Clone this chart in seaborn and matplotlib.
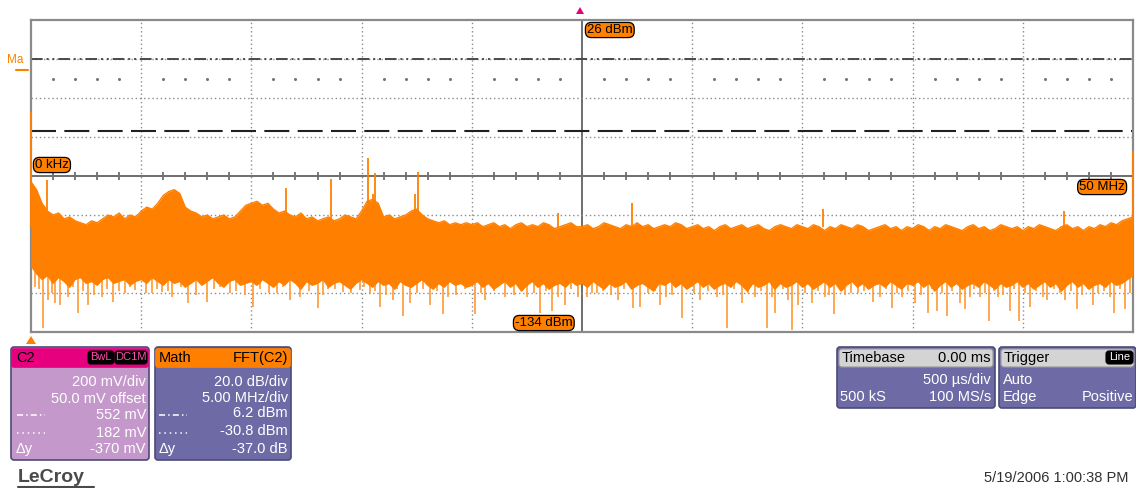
import numpy as np
import matplotlib
matplotlib.use("Agg")
import matplotlib.pyplot as plt
import seaborn as sns
from matplotlib.patches import FancyBboxPatch, Polygon

# --- spectrum (MHz, dBm), 0.25 MHz steps ---
freq_mhz = [i * 0.25 for i in range(201)]
band_top = [
    -57, -61, -68, -72, -74, -73, -76, -75, -77, -78, -79, -77, -78, -76, -74, -75, -73, -76, -74, -75,
    -72, -70, -71, -68, -64, -62, -61, -63, -70, -72, -73, -75, -74, -76, -75, -74, -76, -75, -72, -69,
    -68, -67, -69, -68, -71, -73, -72, -74, -75, -73, -76, -75, -77, -76, -75, -77, -76, -74, -75, -76,
    -72, -67, -66, -68, -75, -74, -76, -75, -74, -72, -71, -74, -76, -77, -78, -77, -79, -78, -79, -78,
    -79, -78, -80, -79, -78, -80, -79, -81, -79, -78, -80, -79, -80, -78, -79, -81, -80, -79, -78, -80,
    -80, -79, -81, -80, -78, -79, -80, -81, -79, -80, -78, -80, -79, -81, -80, -79, -80, -78, -79, -81,
    -80, -79, -81, -80, -82, -80, -79, -81, -80, -79, -81, -80, -79, -81, -82, -80, -79, -80, -81, -79,
    -80, -81, -79, -80, -82, -80, -81, -79, -80, -81, -79, -80, -82, -81, -80, -79, -81, -80, -82, -80,
    -81, -79, -80, -82, -80, -81, -79, -80, -81, -82, -80, -79, -81, -80, -82, -81, -79, -80, -81, -80,
    -82, -80, -81, -79, -80, -81, -82, -80, -79, -81, -80, -82, -80, -81, -79, -80, -78, -79, -77, -76,
    -75]
band_bottom = [
    -100, -104, -107, -105, -109, -106, -108, -111, -107, -106, -109, -108, -110, -107, -106, -109, -108, -107, -110, -108,
    -107, -109, -106, -108, -110, -107, -109, -108, -111, -109, -107, -110, -108, -106, -109, -111, -108, -107, -110, -109,
    -108, -110, -107, -109, -111, -108, -110, -107, -109, -112, -108, -110, -109, -107, -111, -109, -108, -110, -112, -109,
    -107, -109, -111, -108, -110, -109, -112, -108, -110, -111, -109, -107, -110, -112, -109, -111, -108, -110, -109, -111,
    -110, -108, -111, -109, -112, -110, -108, -111, -109, -113, -110, -108, -111, -109, -112, -110, -109, -111, -108, -110,
    -109, -111, -108, -110, -112, -109, -111, -110, -108, -112, -110, -109, -111, -113, -109, -110, -108, -111, -109, -112,
    -110, -108, -111, -109, -112, -110, -109, -111, -108, -110, -113, -109, -111, -110, -108, -112, -109, -111, -110, -108,
    -111, -109, -112, -110, -108, -111, -109, -113, -110, -108, -111, -109, -112, -110, -109, -111, -108, -110, -112, -109,
    -110, -108, -111, -109, -113, -110, -108, -111, -109, -112, -110, -109, -111, -108, -110, -112, -109, -111, -110, -108,
    -111, -109, -112, -110, -108, -111, -109, -113, -110, -108, -111, -109, -112, -110, -109, -111, -108, -110, -109, -107,
    -105]

# deep downward spikes
down_f = [0.18, 0.54, 0.77, 1.09, 1.32, 1.68, 2.13, 2.59, 3.22, 3.72,
          4.26, 4.72, 5.49, 5.94, 6.40, 7.12, 7.99, 8.58, 9.03, 10.07,
          11.16, 11.75, 12.21, 13.02, 13.48, 14.16, 14.93, 15.38, 15.83, 16.42,
          16.88, 17.20, 18.10, 18.69, 18.92, 20.15, 20.60, 21.51, 22.50, 23.09,
          23.64, 24.23, 24.82, 25.23, 25.68, 26.63, 27.31, 27.63, 28.54, 29.08,
          29.54, 30.35, 31.13, 31.58, 32.26, 32.85, 33.39, 33.76, 34.35, 34.53,
          34.80, 35.44, 36.03, 36.43, 36.93, 37.52, 38.20, 39.07, 39.52, 40.11,
          40.70, 41.11, 41.56, 42.15, 42.38, 43.06, 43.47, 43.87, 44.42, 44.83,
          45.33, 46.10, 46.91, 47.46, 48.19, 49.14, 49.64]
down_db = [-111, -132, -117.6, -119, -120, -116, -124, -120, -116, -118.6,
           -114, -112.5, -114, -113.5, -116, -119, -118.6, -111, -114, -121,
           -114, -117.6, -116, -121.7, -112, -113.5, -112.5, -114, -121, -117.6,
           -126, -119, -120, -125, -116, -125, -117.6, -116, -116, -124,
           -123, -120, -116, -116, -114, -117.6, -121.7, -121, -120, -115,
           -127, -117.6, -116, -132, -119, -116, -132, -124, -117.6, -133,
           -120, -119, -116, -125, -115, -114, -118.6, -121.7, -116, -119,
           -124, -123, -126, -119, -122, -116, -128.6, -116, -123, -128.6,
           -121, -117.6, -117.6, -122, -120, -124, -122]

# shallower spikes just under the band
shallow_spikes = [
    (0.35, -112), (0.95, -114), (1.9, -111), (2.35, -113), (2.85, -115), (3.45, -112), (4.0, -113),
    (4.5, -111), (5.2, -114), (5.7, -112), (6.2, -113), (6.8, -111), (7.5, -115), (8.3, -112),
    (9.3, -113), (9.7, -115), (10.4, -112), (10.8, -114), (11.45, -111), (12.6, -113), (13.25, -115),
    (13.8, -112), (14.5, -114), (15.1, -111), (15.6, -113), (16.1, -115), (16.6, -112), (17.5, -114),
    (17.8, -112), (18.4, -113), (19.3, -115), (19.7, -112), (20.4, -114), (21.0, -113), (21.9, -115),
    (22.2, -112), (22.8, -114), (23.35, -113), (23.9, -116), (24.5, -112), (25.45, -114), (25.95, -113),
    (26.3, -115), (26.9, -112), (28.0, -114), (28.3, -113), (28.8, -116), (29.8, -112), (30.1, -114),
    (30.7, -113), (31.4, -115), (31.9, -112), (32.55, -114), (33.1, -113), (33.6, -116), (34.1, -112),
    (35.1, -114), (35.7, -113), (36.2, -115), (36.7, -112), (37.2, -114), (37.8, -113), (38.5, -116),
    (38.8, -112), (39.3, -114), (39.8, -113), (40.4, -115), (40.9, -112), (41.35, -114), (41.8, -113),
    (42.6, -116), (42.8, -112), (43.3, -114), (43.7, -113), (44.1, -115), (44.6, -112), (45.1, -114),
    (45.6, -113), (45.9, -116), (46.4, -112), (46.7, -114), (47.2, -113), (47.7, -115), (47.95, -112),
    (48.4, -114), (48.7, -113), (48.95, -116), (49.4, -112), (49.85, -114)]

up_f = [0.02, 0.73, 11.57, 13.61, 15.29, 15.52, 15.61, 17.42, 17.56, 23.91,
        27.27, 35.93, 46.87, 49.98]
up_db = [-21, -56, -60, -55.5, -45, -63, -52.5, -63, -52, -73,
         -68, -71, -72, -41]

cursor_1_dbm = 6.2
cursor_2_dbm = -30.8
dots_dbm = -4.3

ORANGE = "#FF8000"
SPIKE = "#FF9A33"
GRID = "#8C8C8C"

sns.set_theme(style="white")
plt.rcParams["font.family"] = ["Liberation Sans", "DejaVu Sans"]

fig = plt.figure(figsize=(11.36, 4.88), dpi=100)
ax = fig.add_axes([31 / 1136, (488 - 332) / 488, 1102 / 1136, 312 / 488])
ax.set_xlim(0, 50)
ax.set_ylim(-134, 26)
ax.set_xticks([])
ax.set_yticks([])
for s in ax.spines.values():
    s.set_color("#8A8A8A")
    s.set_linewidth(1.6)

# graticule
for i in range(1, 10):
    if i == 5:
        ax.axvline(5 * i, color="#6E6E6E", lw=1.4, zorder=1)
    else:
        ax.axvline(5 * i, color=GRID, lw=1, ls=(0, (1, 2)), zorder=1)
for j in range(1, 8):
    if j == 4:
        ax.axhline(26 - 20 * j, color="#6E6E6E", lw=1.4, zorder=1)
    else:
        ax.axhline(26 - 20 * j, color=GRID, lw=1, ls=(0, (1, 2)), zorder=1)
minor = [m for m in range(1, 50) if m % 5]
ax.vlines(minor, -56.2, -51.8, color="#6E6E6E", lw=1.3, zorder=1)
ax.scatter(minor, [dots_dbm] * len(minor), s=1.5, color="#777777", zorder=1)

# cursors
ax.axhline(cursor_1_dbm, color="#4A4A4A", lw=1.4, ls=(0, (6, 2, 1, 2, 1, 2)), zorder=2)
ax.axhline(cursor_2_dbm, color="#202020", lw=1.5, ls=(0, (12, 4)), zorder=2)

# FFT trace
sf, sd = zip(*shallow_spikes)
ax.vlines(sf, sd, -100, color=SPIKE, lw=1.2, zorder=3)
ax.vlines(down_f, down_db, -100, color=SPIKE, lw=1.2, zorder=3)
ax.fill_between(freq_mhz, band_bottom, band_top, color=ORANGE, lw=0, zorder=4)
sns.lineplot(x=freq_mhz, y=band_top, color=ORANGE, lw=1, ax=ax, zorder=4)
sns.lineplot(x=freq_mhz, y=band_bottom, color=ORANGE, lw=1, ax=ax, zorder=4)
ax.vlines(up_f, -80, up_db, color=ORANGE, lw=1.3, zorder=4, clip_on=False)
ax.set_xlabel("")
ax.set_ylabel("")

# overlay in pixel coordinates
ov = fig.add_axes([0, 0, 1, 1], zorder=5)
ov.set_xlim(0, 1136)
ov.set_ylim(488, 0)
ov.axis("off")
ov.patch.set_alpha(0)


def tag(x, y, text, ha="left"):
    ov.text(x, y, text, ha=ha, va="center", fontsize=9.5, color="black",
            bbox=dict(boxstyle="round,pad=0.12,rounding_size=0.45",
                      fc=ORANGE, ec="black", lw=0.9))


tag(35, 165, "0 kHz")
tag(587, 30, "26 dBm")
tag(515, 323, "-134 dBm")
tag(1125, 187, "50 MHz", ha="right")

ov.text(7, 60, "Ma", color=ORANGE, fontsize=8.5, va="center")
ov.plot([16, 28], [70, 70], color=ORANGE, lw=1.5)
ov.add_patch(Polygon([[576, 14], [584, 14], [580, 7]], closed=True, fc="#E6007E", ec="none"))
ov.add_patch(Polygon([[26, 344], [36, 344], [31, 336]], closed=True, fc=ORANGE, ec="none"))


def box(x, y, w, h, fc, ec="#4C4A78", r=3, lw=1.2):
    ov.add_patch(FancyBboxPatch((x, y), w, h,
                                boxstyle=f"round,pad=0,rounding_size={r}",
                                fc=fc, ec=ec, lw=lw))


def badge(x, y, w, text, fg):
    box(x, y, w, 13, "black", ec="black", r=3, lw=0.8)
    ov.text(x + w / 2, y + 6.5, text, color=fg, fontsize=8, ha="center", va="center")


FS = 10.5
# C2 panel
box(11, 347, 138, 113, "#C598CB")
box(12, 349, 136, 18, "#E6007E", ec="#E6007E", r=2)
ov.text(16, 358, "C2", fontsize=FS, va="center", color="black")
badge(88, 351, 26, "BwL", "#FF4FA8")
badge(115, 351, 32, "DC1M", "#FF4FA8")
c2_rows = ["200 mV/div", "50.0 mV offset", "552 mV", "182 mV", "-370 mV"]
row_y = [382, 399, 415, 433, 449]
for txt, yy in zip(c2_rows, row_y):
    ov.text(146, yy, txt, ha="right", va="center", fontsize=FS, color="white")
ov.plot([17, 45], [415, 415], color="white", lw=1.1, ls=(0, (4, 2, 1, 2)))
ov.plot([17, 45], [433, 433], color="white", lw=1.1, ls=(0, (1, 2.5)))
ov.text(16, 449, "\u0394y", va="center", fontsize=FS, color="white")

# Math panel
box(155, 347, 136, 113, "#6E6AA6")
box(156, 349, 134, 18, ORANGE, ec=ORANGE, r=2)
ov.text(159, 358, "Math", fontsize=FS, va="center", color="black")
ov.text(288, 358, "FFT(C2)", fontsize=FS, va="center", ha="right", color="black")
m_rows = ["20.0 dB/div", "5.00 MHz/div", "6.2 dBm", "-30.8 dBm", "-37.0 dB"]
m_y = [382, 398, 413, 431, 449]
for txt, yy in zip(m_rows, m_y):
    ov.text(288, yy, txt, ha="right", va="center", fontsize=FS, color="white")
ov.plot([159, 187], [415, 415], color="white", lw=1.1, ls=(0, (4, 2, 1, 2)))
ov.plot([159, 187], [433, 433], color="white", lw=1.1, ls=(0, (1, 2.5)))
ov.text(159, 449, "\u0394y", va="center", fontsize=FS, color="white")

# Timebase panel
box(837, 347, 158, 61, "#6E6AA6")
box(839, 349, 154, 18, "#D4D4D4", ec="#9A9A9A", r=3, lw=0.8)
ov.text(842, 358, "Timebase", fontsize=FS, va="center", color="black")
ov.text(991, 358, "0.00 ms", fontsize=FS, va="center", ha="right", color="black")
ov.text(991, 380, "500 \u00b5s/div", fontsize=FS, va="center", ha="right", color="white")
ov.text(840, 397, "500 kS", fontsize=FS, va="center", color="white")
ov.text(991, 397, "100 MS/s", fontsize=FS, va="center", ha="right", color="white")

# Trigger panel
box(999, 347, 137, 61, "#6E6AA6")
box(1001, 349, 133, 18, "#D4D4D4", ec="#9A9A9A", r=3, lw=0.8)
ov.text(1004, 358, "Trigger", fontsize=FS, va="center", color="black")
badge(1106, 351, 27, "Line", "white")
ov.text(1003, 380, "Auto", fontsize=FS, va="center", color="white")
ov.text(1003, 397, "Edge", fontsize=FS, va="center", color="white")
ov.text(1133, 397, "Positive", fontsize=FS, va="center", ha="right", color="white")

# footer
ov.text(18, 477, "LeCroy", fontsize=14, va="center", color="#4A4A4A", fontweight="bold")
ov.plot([18, 94], [487, 487], color="#4A4A4A", lw=1.5)
ov.text(1128, 478, "5/19/2006 1:00:38 PM", fontsize=10.5, va="center", ha="right", color="#303030")

fig.savefig("out.png", dpi=100)
